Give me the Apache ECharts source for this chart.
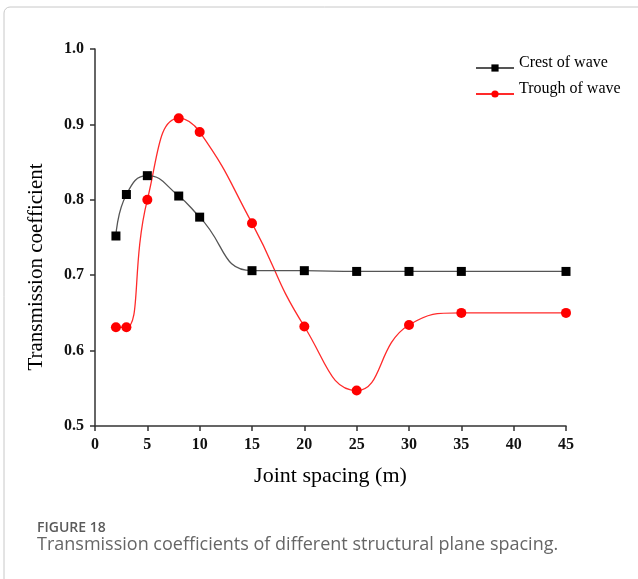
<!DOCTYPE html>
<html>
<head>
<meta charset="utf-8">
<script src="https://cdn.jsdelivr.net/npm/echarts@6/dist/echarts.min.js"></script>
<style>
  html, body { margin: 0; padding: 0; background: #fff; }
  #chart { width: 638px; height: 579px; }
</style>
</head>
<body>
<div id="chart"></div>
<script>
// joint spacing (m)
const spacing = [2, 3, 5, 8, 10, 15, 20, 25, 30, 35, 45];
// transmission coefficient
const crest = [0.752, 0.807, 0.832, 0.805, 0.777, 0.706, 0.706, 0.705, 0.705, 0.705, 0.705];
const trough = [0.631, 0.631, 0.800, 0.908, 0.890, 0.769, 0.632, 0.547, 0.634, 0.650, 0.650];

const serif = '"Liberation Serif", "DejaVu Serif", serif';
const sans = '"Open Sans", "Noto Sans", sans-serif';
const axisColor = '#333';

const chart = echarts.init(document.getElementById('chart'));

chart.setOption({
    animation: false,
    grid: { left: 95, right: 72, top: 49, bottom: 153 },
    legend: {
        orient: 'vertical',
        left: 475,
        top: 55,
        padding: 0,
        itemWidth: 38,
        itemHeight: 9,
        itemGap: 0,
        formatter: '{t|{name}}',
        textStyle: {
            fontFamily: serif, fontSize: 16, color: '#000',
            rich: {
                t: {
                    fontFamily: serif, fontSize: 16, color: '#000',
                    lineHeight: 12, padding: [0, 0, 10, 0]
                }
            }
        },
        data: ['Crest of wave', 'Trough of wave']
    },
    xAxis: {
        type: 'value',
        min: 0,
        max: 45,
        interval: 5,
        splitLine: { show: false },
        axisLine: { lineStyle: { color: axisColor, width: 1.5 } },
        axisTick: { length: 5, lineStyle: { color: axisColor, width: 1.5 } },
        axisLabel: { margin: 11, fontFamily: serif, fontSize: 16, fontWeight: 'bold', color: '#111' },
        name: 'Joint spacing (m)',
        nameLocation: 'middle',
        nameGap: 39,
        nameTextStyle: { fontFamily: serif, fontSize: 22, color: '#000' }
    },
    yAxis: {
        type: 'value',
        min: 0.5,
        max: 1.0,
        interval: 0.1,
        splitLine: { show: false },
        axisLine: { show: true, lineStyle: { color: axisColor, width: 1.5 } },
        axisTick: { show: true, length: 5, lineStyle: { color: axisColor, width: 1.5 } },
        axisLabel: {
            margin: 11, fontFamily: serif, fontSize: 16, fontWeight: 'bold', color: '#111',
            formatter: v => v.toFixed(1)
        }
    },
    graphic: [
        {
            type: 'rect',
            shape: { x: 4, y: 7, width: 700, height: 700, r: 6 },
            style: { fill: 'none', stroke: '#c8c8c8', lineWidth: 1 },
            silent: true
        },
        {
            type: 'text',
            x: 36, y: 267,
            rotation: Math.PI / 2,
            style: {
                text: 'Transmission coefficient',
                font: '21px ' + serif,
                fill: '#000',
                align: 'center',
                verticalAlign: 'middle'
            }
        },
        {
            type: 'text',
            x: 37, y: 528,
            style: {
                text: 'FIGURE 18', font: '600 14px ' + sans, fill: '#5a5a5a',
                verticalAlign: 'middle'
            }
        },
        {
            type: 'text',
            x: 37, y: 545,
            style: {
                text: 'Transmission coefficients of different structural plane spacing.',
                font: '18px ' + sans,
                fill: '#666',
                verticalAlign: 'middle'
            }
        }
    ],
    series: [
        {
            name: 'Crest of wave',
            type: 'line',
            smooth: true,
            data: spacing.map((x, i) => [x, crest[i]]),
            symbol: 'rect',
            symbolSize: 9,
            itemStyle: { color: '#000' },
            lineStyle: { color: '#555', width: 1.3 },
            z: 3
        },
        {
            name: 'Trough of wave',
            type: 'line',
            smooth: true,
            data: spacing.map((x, i) => [x, trough[i]]),
            symbol: 'circle',
            symbolSize: 10,
            itemStyle: { color: '#ff0000' },
            lineStyle: { color: '#ff2a2a', width: 1.3 },
            z: 2
        }
    ]
});
</script>
</body>
</html>
